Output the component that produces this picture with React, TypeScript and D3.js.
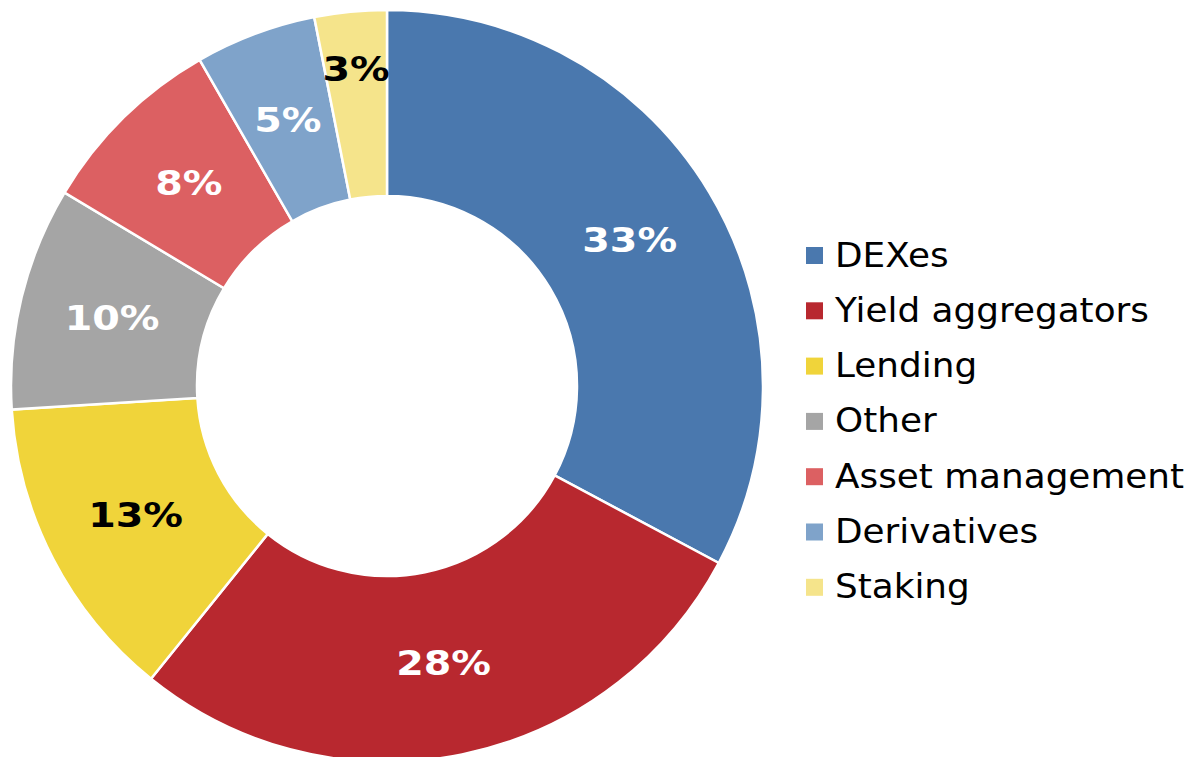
import { useEffect, useRef } from 'react';
import * as d3 from 'd3';

const categories = ['DEXes', 'Yield aggregators', 'Lending', 'Other', 'Asset management', 'Derivatives', 'Staking'];
const shares = [32.8, 28.0, 13.2, 9.6, 8.1, 5.2, 3.1];
const colors = ['#4a78ae', '#b8282f', '#f0d43a', '#a5a5a5', '#dc6062', '#7fa3ca', '#f5e48b'];
const labelColors = ['#fff', '#fff', '#000', '#fff', '#fff', '#fff', '#000'];

export default function App() {
  const svgRef = useRef<SVGSVGElement>(null);

  useEffect(() => {
    const width = 1193;
    const height = 757;
    const svg = d3.select(svgRef.current);
    svg.selectAll('*').remove();
    svg.attr('width', width).attr('height', height);

    const cx = 387;
    const cy = 386;
    const outerR = 376;
    const innerR = 190;

    const data = categories.map((c, i) => ({ name: c, value: shares[i], color: colors[i], label: labelColors[i] }));

    const pie = d3.pie<any>().value(d => d.value).sort(null);
    const arc = d3.arc<any>().innerRadius(innerR).outerRadius(outerR);
    // the smallest slice's label sits further out, near the rim
    const outerLabelArc = d3.arc<any>().innerRadius(outerR - 122).outerRadius(outerR + 6);
    const arcs = pie(data);

    const g = svg.append('g').attr('transform', `translate(${cx},${cy})`);

    // Slices
    g.selectAll('path.slice')
      .data(arcs)
      .join('path')
      .attr('class', 'slice')
      .attr('d', arc)
      .attr('fill', d => d.data.color)
      .attr('stroke', '#fff')
      .attr('stroke-width', 2.5);

    // Percent labels
    g.selectAll('text.pct')
      .data(arcs)
      .join('text')
      .attr('class', 'pct')
      .attr('transform', (d, i) => {
        const [x, y] = i === arcs.length - 1 ? outerLabelArc.centroid(d) : arc.centroid(d);
        return `translate(${x},${y}) scale(1.2,1)`;
      })
      .attr('text-anchor', 'middle')
      .attr('dominant-baseline', 'central')
      .attr('font-family', 'DejaVu Sans, Verdana, sans-serif')
      .attr('font-weight', 'bold')
      .attr('font-size', '33px')
      .attr('fill', d => d.data.label)
      .text(d => `${Math.round(d.data.value)}%`);

    // Legend
    const legend = svg.append('g').attr('transform', 'translate(806, 255)');
    data.forEach((d, i) => {
      const row = legend.append('g').attr('transform', `translate(0, ${i * 55.3})`);
      row.append('rect')
        .attr('x', 0).attr('y', -8)
        .attr('width', 17).attr('height', 17)
        .attr('fill', d.color);
      row.append('text')
        .attr('transform', 'translate(29,0) scale(1.085,1)')
        .attr('dominant-baseline', 'central')
        .attr('font-family', 'DejaVu Sans, Verdana, sans-serif')
        .attr('font-size', '33px')
        .attr('fill', '#000')
        .text(d.name);
    });
  }, []);

  return (
    <div style={{ position: 'absolute', left: 0, top: 0 }}>
      <svg ref={svgRef}></svg>
    </div>
  );
}
